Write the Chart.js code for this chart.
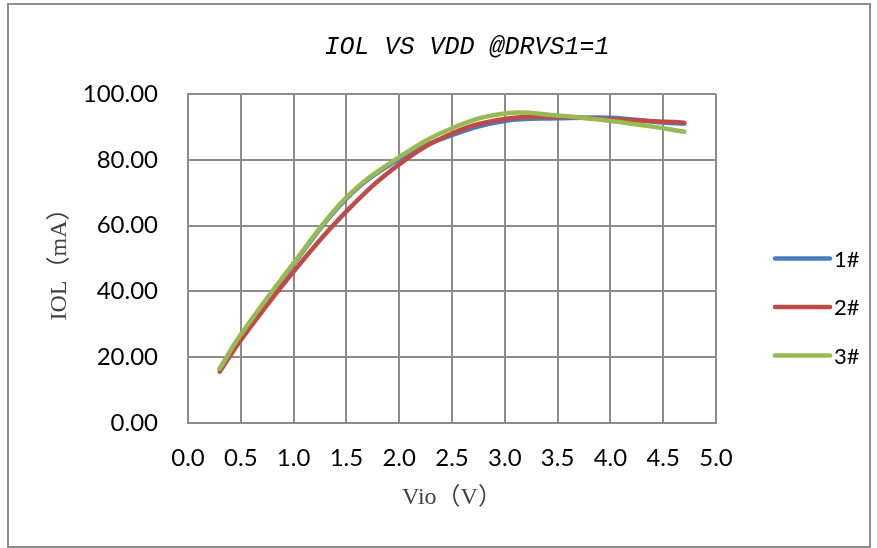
<!DOCTYPE html>
<html>
<head>
<meta charset="utf-8">
<script src="https://cdn.jsdelivr.net/npm/chart.js@4.4.0/dist/chart.umd.min.js"></script>
<style>
    html, body { margin: 0; padding: 0; background: #fff; }
    #frame {
        position: absolute; left: 7px; top: 3px;
        width: 864px; height: 545px;
        box-sizing: border-box;
        border: 2px solid #8e8e8e;
    }
    #frame canvas { display: block; }
</style>
</head>
<body>
<div id="frame"><canvas id="chart" width="860" height="541"></canvas></div>
<script>
// Vio (V) sample points and IOL (mA) per sample
const vio = [0.3, 0.5, 1.0, 1.5, 2.0, 2.5, 3.0, 3.5, 4.0, 4.5, 4.7];
const iol1 = [16.4, 26.6, 48.3, 68.2, 80.2, 87.5, 91.8, 92.6, 92.8, 91.3, 91.0];
const iol2 = [15.6, 25.2, 46.0, 64.3, 78.6, 88.0, 92.4, 93.0, 92.3, 91.6, 91.3];
const iol3 = [16.5, 26.9, 48.6, 68.6, 80.8, 89.6, 94.1, 93.5, 91.8, 89.6, 88.5];
const seriesNames = ['1#', '2#', '3#'];
const seriesColors = ['#4a7ebb', '#be4b48', '#98b954'];
const xTicks = [0, 0.5, 1.0, 1.5, 2.0, 2.5, 3.0, 3.5, 4.0, 4.5, 5.0];
const yTicks = [0, 20, 40, 60, 80, 100];

const gridColor = '#8c8c8c';
const tickFont = { family: 'Lato, "Open Sans", sans-serif', size: 24 };
const axisTitleFont = { family: '"Liberation Serif", "Noto Sans CJK SC", serif', size: 24 };

function toPoints(ys) {
    return vio.map((x, i) => ({ x: x, y: ys[i] }));
}

// legend drawn by hand to sit where the original has it
const sideLegend = {
    id: 'sideLegend',
    afterDraw(chart) {
        const ctx = chart.ctx;
        const area = chart.chartArea;
        const x0 = area.right + 59;
        let y = (area.top + area.bottom) / 2;
        ctx.save();
        ctx.font = '22px Lato, "Open Sans", sans-serif';
        ctx.textBaseline = 'middle';
        chart.data.datasets.forEach(ds => {
            ctx.strokeStyle = ds.borderColor;
            ctx.lineWidth = 4.5;
            ctx.lineCap = 'round';
            ctx.beginPath();
            ctx.moveTo(x0, y);
            ctx.lineTo(x0 + 55, y);
            ctx.stroke();
            ctx.fillStyle = '#000';
            ctx.fillText(ds.label, x0 + 59, y + 1);
            y += 48.5;
        });
        ctx.restore();
    }
};

const datasets = [iol1, iol2, iol3].map((ys, i) => ({
    label: seriesNames[i],
    data: toPoints(ys),
    borderColor: seriesColors[i],
    backgroundColor: seriesColors[i],
    borderWidth: 4.5,
    borderCapStyle: 'round',
    borderJoinStyle: 'round',
    pointRadius: 0,
    tension: 0.4,
    order: 3 - i
}));

new Chart(document.getElementById('chart').getContext('2d'), {
    type: 'line',
    data: { datasets: datasets },
    options: {
        responsive: false,
        animation: false,
        layout: { padding: { left: 56, right: 0, top: 0, bottom: 0 } },
        plugins: {
            legend: { display: false },
            tooltip: { enabled: false },
            title: {
                display: true,
                text: 'IOL VS VDD @DRVS1=1',
                color: '#000',
                font: { family: '"Liberation Mono", monospace', size: 25, style: 'italic', weight: 'normal' },
                padding: { top: 27, bottom: 32 }
            }
        },
        scales: {
            x: {
                type: 'linear',
                min: 0,
                max: 5,
                afterBuildTicks: s => { s.ticks = xTicks.map(v => ({ value: v })); },
                afterFit: s => { s.height = 123; },
                ticks: {
                    color: '#000',
                    font: tickFont,
                    padding: 21,
                    maxRotation: 0,
                    callback: v => Number(v).toFixed(1)
                },
                grid: { color: gridColor, lineWidth: 2, drawTicks: false },
                border: { color: gridColor, width: 2 },
                title: {
                    display: true,
                    text: 'Vio（V）',
                    color: '#404040',
                    font: axisTitleFont,
                    padding: { top: 0, bottom: 34 }
                }
            },
            y: {
                min: 0,
                max: 100,
                afterBuildTicks: s => { s.ticks = yTicks.map(v => ({ value: v })); },
                afterFit: s => { s.width = 123; },
                ticks: {
                    color: '#000',
                    font: tickFont,
                    padding: 30,
                    callback: v => Number(v).toFixed(2)
                },
                grid: { color: gridColor, lineWidth: 2, drawTicks: false },
                border: { color: gridColor, width: 2 },
                title: {
                    display: true,
                    text: 'IOL（mA）',
                    color: '#404040',
                    font: axisTitleFont,
                    padding: { top: -20, bottom: 0 }
                }
            },
            // empty right-hand axis that only reserves room for the legend
            legendSpace: {
                type: 'linear',
                position: 'right',
                min: 0,
                max: 1,
                afterFit: s => { s.width = 153; },
                ticks: { display: false },
                grid: { display: false, drawTicks: false },
                border: { display: false }
            }
        }
    },
    plugins: [sideLegend]
});
</script>
</body>
</html>
